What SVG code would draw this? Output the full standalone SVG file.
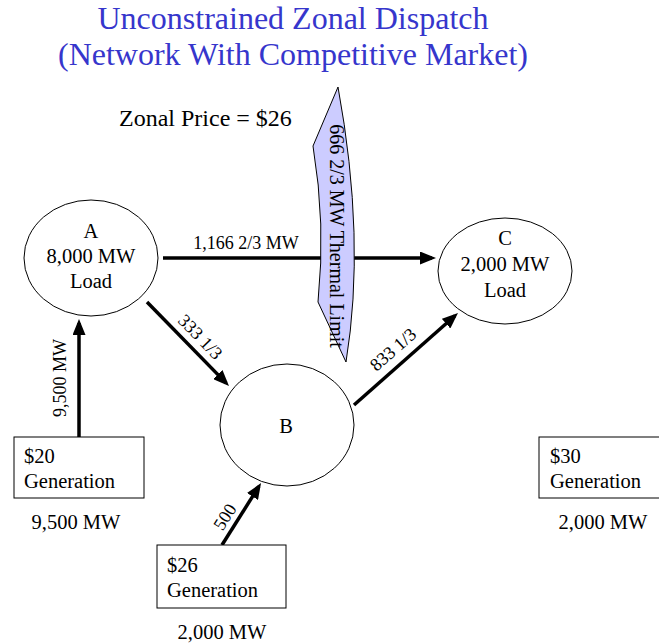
<svg xmlns="http://www.w3.org/2000/svg" width="659" height="644" viewBox="0 0 659 644">
<style>
text{font-family:"Liberation Serif","Times New Roman",serif;fill:#000}
.title{font-size:32px;fill:#3636CC;text-anchor:middle}
.node{fill:#fff;stroke:#000;stroke-width:1}
.nt{font-size:20.5px;text-anchor:middle}
.bt{font-size:20.5px}
.el{font-size:18px;text-anchor:middle}
.edge{stroke:#000;stroke-width:3.5;fill:none;marker-end:url(#ah)}
</style>
<defs>
<marker id="ah" markerUnits="userSpaceOnUse" markerWidth="16" markerHeight="13" refX="12" refY="6.5" orient="auto">
<path d="M0,0 L16,6.5 L0,13 Z" fill="#000"/>
</marker>
</defs>
<rect width="659" height="644" fill="#fff"/>
<g id="title">
<text class="title" x="293" y="29">Unconstrained Zonal Dispatch</text>
<text class="title" x="293" y="65">(Network With Competitive Market)</text>
</g>
<text id="zonal-price" x="119" y="126" style="font-size:24px">Zonal Price = $26</text>
<g id="connectors">
<line class="edge" x1="163" y1="258" x2="432" y2="258"/>
<line class="edge" x1="79" y1="437" x2="79" y2="323"/>
<line class="edge" x1="147" y1="302" x2="226.2" y2="383.1"/>
<line class="edge" x1="354" y1="405" x2="455" y2="315.7"/>
<line class="edge" x1="222" y1="545" x2="258.9" y2="486.4"/>
<text class="el" x="246" y="249">1,166 2/3 MW</text>
<text class="el" transform="translate(66,378) rotate(-90)">9,500 MW</text>
<text class="el" transform="translate(196,341) rotate(46)">333 1/3</text>
<text class="el" transform="translate(397,354) rotate(-41.5)">833 1/3</text>
<text class="el" transform="translate(230,520) rotate(-57.8)">500</text>
</g>
<g id="thermal-limit">
<path d="M338,87 L313,146 Q326,224 318,302 L346,362 Q366,240 338,87 Z" fill="#CCCCFF" stroke="#000" stroke-width="1"/>
<text style="font-size:20px;text-anchor:middle" transform="translate(330,236) rotate(90)">666 2/3 MW Thermal Limit</text>
</g>
<g id="node-A">
<ellipse class="node" cx="91" cy="258" rx="67" ry="58"/>
<text class="nt" x="91" y="238">A</text>
<text class="nt" x="91" y="263">8,000 MW</text>
<text class="nt" x="91" y="288">Load</text>
</g>
<g id="node-B">
<ellipse class="node" cx="287" cy="425" rx="67" ry="61"/>
<text class="nt" x="286" y="433">B</text>
</g>
<g id="node-C">
<ellipse class="node" cx="505" cy="271" rx="67" ry="53"/>
<text class="nt" x="505" y="245">C</text>
<text class="nt" x="505" y="271">2,000 MW</text>
<text class="nt" x="505" y="297">Load</text>
</g>
<g id="gen-20">
<rect class="node" x="14" y="437" width="130" height="61"/>
<text class="bt" x="24" y="463">$20</text>
<text class="bt" x="24" y="488">Generation</text>
<text class="nt" x="76" y="529">9,500 MW</text>
</g>
<g id="gen-26">
<rect class="node" x="157" y="545" width="129" height="63"/>
<text class="bt" x="167" y="572">$26</text>
<text class="bt" x="167" y="597">Generation</text>
<text class="nt" x="222" y="639">2,000 MW</text>
</g>
<g id="gen-30">
<rect class="node" x="539" y="437" width="130" height="61"/>
<text class="bt" x="550" y="463">$30</text>
<text class="bt" x="550" y="488">Generation</text>
<text class="nt" x="603" y="529">2,000 MW</text>
</g>
</svg>
